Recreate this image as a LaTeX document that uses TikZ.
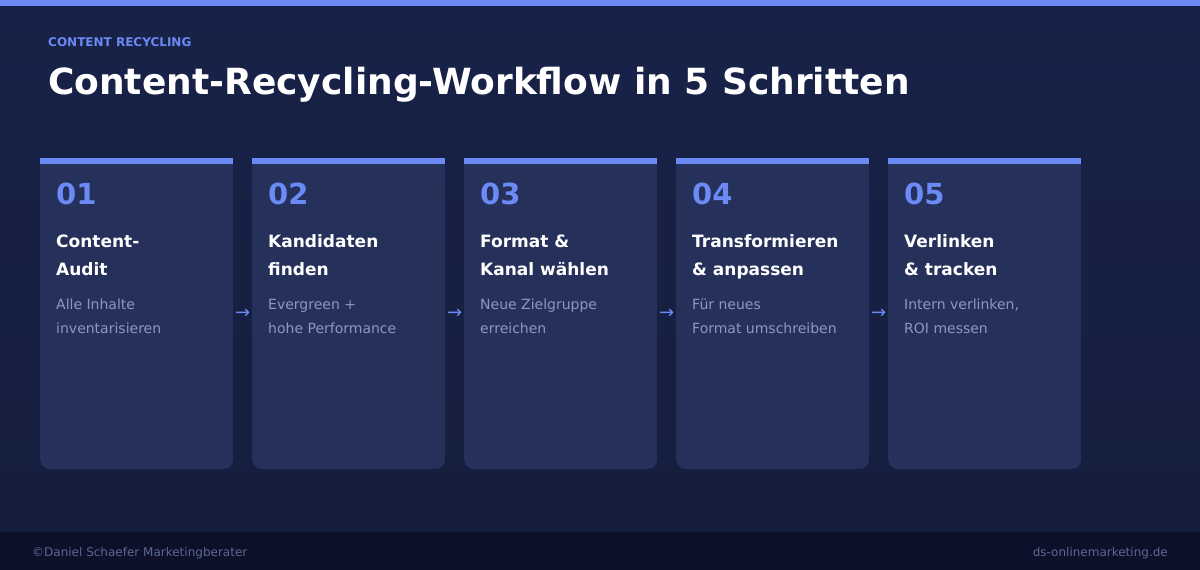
\documentclass[tikz,border=0pt]{standalone}
\usepackage{fontspec}
\setmainfont{DejaVu Sans}
\usetikzlibrary{positioning}

\definecolor{bgtop}{RGB}{24,34,72}
\definecolor{bgbot}{RGB}{21,30,62}
\definecolor{cardbg}{RGB}{37,49,90}
\definecolor{accent}{RGB}{107,138,245}
\definecolor{desctext}{RGB}{140,152,192}
\definecolor{footbg}{RGB}{12,17,41}
\definecolor{foottext}{RGB}{92,104,146}

\tikzset{
  card/.style={fill=cardbg, rounded corners=10pt, minimum width=193pt,
    minimum height=311pt, inner sep=0pt, anchor=north west},
  stepnum/.style={font=\bfseries\fontsize{29}{29}\selectfont, text=accent,
    anchor=base west, inner sep=0pt},
  steptitle/.style={font=\bfseries\fontsize{17}{28}\selectfont, text=white,
    align=left, anchor=base west, inner sep=0pt},
  stepdesc/.style={font=\fontsize{14}{24}\selectfont, text=desctext,
    align=left, anchor=base west, inner sep=0pt},
  flow/.style={font=\fontsize{18}{18}\selectfont, text=accent, inner sep=0pt},
  foot/.style={font=\fontsize{12}{12}\selectfont, text=foottext, inner sep=0pt},
}

\begin{document}
\begin{tikzpicture}[x=1pt, y=-1pt]
  \useasboundingbox (0,0) rectangle (1200,570);
  % background
  \shade[top color=bgtop, bottom color=bgbot] (0,0) rectangle (1200,532);
  \fill[accent] (0,0) rectangle (1200,6);
  \fill[footbg] (0,532) rectangle (1200,570);

  % heading
  \node[anchor=base west, inner sep=0pt, text=accent,
    font=\bfseries\fontsize{12}{12}\selectfont] (kicker) at (48,46) {CONTENT RECYCLING};
  \node[anchor=base west, inner sep=0pt, text=white,
    font=\bfseries\fontsize{36}{36}\selectfont] (headline) at (48,94)
    {Content-Recycling-Workflow in 5 Schritten};

  % cards
  \foreach [count=\i] \ttl/\desc in {
      {Content-\\Audit}/{Alle Inhalte\\inventarisieren},
      {Kandidaten\\finden}/{Evergreen +\\hohe Performance},
      {Format \&\\Kanal wählen}/{Neue Zielgruppe\\erreichen},
      {Transformieren\\\& anpassen}/{Für neues\\Format umschreiben},
      {Verlinken\\\& tracken}/{Intern verlinken,\\ROI messen}} {
    \node[card] (c\i) at (40+212*\i-212,158) {};
    \fill[cardbg] (c\i.north west) rectangle ([yshift=-12pt]c\i.north east);
    \fill[accent] (c\i.north west) rectangle ([yshift=-6pt]c\i.north east);
    \node[stepnum] (n\i) at (56+212*\i-212,204) {0\i};
    \node[steptitle] (t\i) at (56+212*\i-212,275) {\ttl};
    \node[stepdesc] (d\i) at (56+212*\i-212,333) {\desc};
  }

  % arrows between cards
  \foreach \i [evaluate=\i as \j using int(\i+1)] in {1,...,4}
    \path (c\i.east) -- (c\j.west) node[midway, flow] (a\i) {→};

  % footer
  \node[foot, anchor=base west] (owner) at (32,556) {©Daniel Schaefer Marketingberater};
  \node[foot, anchor=base east] (site) at (1168,556) {ds-onlinemarketing.de};
\end{tikzpicture}
\end{document}
